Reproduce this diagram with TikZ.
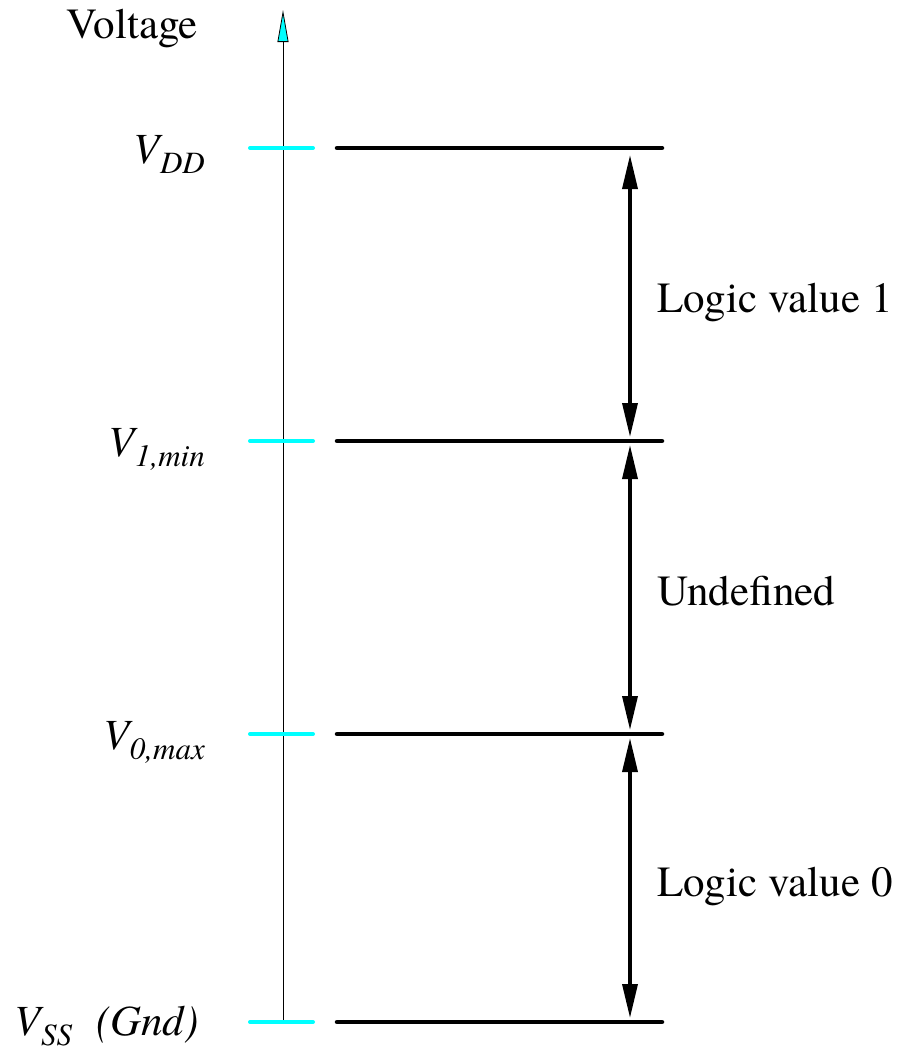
\documentclass[tikz,border=0pt]{standalone}
\usepackage{fontspec}
\setmainfont{texgyretermes}[Extension=.otf, UprightFont=*-regular, ItalicFont=*-italic, BoldFont=*-bold, BoldItalicFont=*-bolditalic]
\usetikzlibrary{arrows.meta}
\definecolor{aqua}{RGB}{0,255,255}
\newcommand\bigfont{\rmfamily\fontsize{43}{50}\selectfont}
\newcommand\subfont{\fontsize{31}{36}\selectfont}
\newcommand\vlab[1]{\itshape V\raisebox{-10pt}{\subfont #1}}
\tikzset{
  lbl/.style={inner sep=0pt, font=\bigfont},
  vl/.style={inner sep=0pt, font=\bigfont, anchor=base east},
  tick/.style={aqua, line width=4pt, line cap=round},
  level/.style={black, line width=4.5pt, line cap=round},
  span/.style={line width=3.5pt, {Triangle[length=34pt,width=15pt]}-{Triangle[length=34pt,width=15pt]}},
}
\begin{document}
\begin{tikzpicture}[x=1pt,y=-1pt]
\useasboundingbox (0,0) rectangle (898,1050);
% axis
\coordinate (axb) at (283,1022);
\coordinate (axt) at (283,10);
\draw[line width=0.8pt, -{Triangle[length=32pt,width=11pt,fill=aqua]}] (axb) -- (axt);
\node[lbl, anchor=base] (volt) at (132,38) {Voltage};
% levels
\foreach \n/\y in {dd/148, one/441, zero/734, ss/1022}{
  \coordinate (t\n a) at (250,\y);
  \coordinate (t\n b) at (313,\y);
  \coordinate (l\n a) at (337,\y);
  \coordinate (l\n b) at (662,\y);
  \draw[tick] (t\n a) -- (t\n b);
  \draw[level] (l\n a) -- (l\n b);
}
% labels
\node[vl] (vdd) at (205,163) {\vlab{DD}};
\node[vl] (vone) at (205,456) {\vlab{1,min}};
\node[vl] (vzero) at (205,749) {\vlab{0,max}};
\node[vl] (vss) at (199,1035) {\vlab{SS}\hspace{24pt}(Gnd)};
% arrows
\coordinate (a1) at (630,155);
\coordinate (a2) at (630,437);
\coordinate (a3) at (630,445);
\coordinate (a4) at (630,730);
\coordinate (a5) at (630,738);
\coordinate (a6) at (630,1018);
\draw[span] (a1) -- (a2);
\draw[span] (a3) -- (a4);
\draw[span] (a5) -- (a6);
\node[lbl, anchor=base west] (lv1) at (657,312) {Logic value 1};
\node[lbl, anchor=base west] (und) at (657,605) {Undefined};
\node[lbl, anchor=base west] (lv0) at (657,896) {Logic value 0};
\end{tikzpicture}
\end{document}
